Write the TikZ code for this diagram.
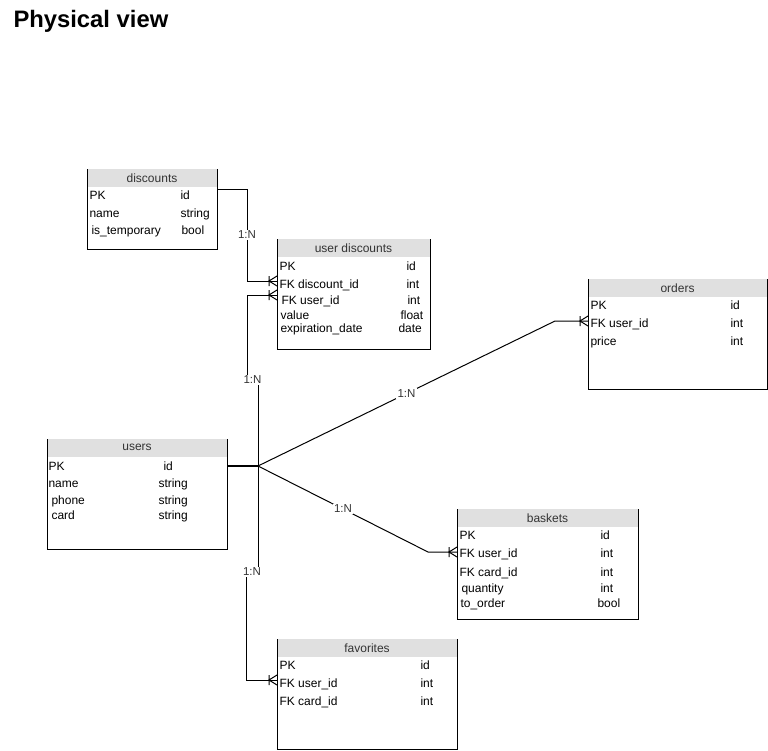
\documentclass[tikz,border=0pt]{standalone}
\usepackage{fontspec}
\setmainfont{Liberation Sans}

\definecolor{hdrgray}{RGB}{224,224,224}
\definecolor{txtgray}{RGB}{51,51,51}

% crow's foot end: bar plus fan
\pgfdeclarearrow{
  name = crow,
  setup code = {
    \pgfarrowssettipend{0pt}
    \pgfarrowssetlineend{0pt}
    \pgfarrowssetbackend{-8pt}
  },
  drawing code = {
    \pgfpathmoveto{\pgfpoint{-8pt}{5pt}}
    \pgfpathlineto{\pgfpoint{-8pt}{-5pt}}
    \pgfpathmoveto{\pgfpoint{0pt}{5pt}}
    \pgfpathlineto{\pgfpoint{-8pt}{0pt}}
    \pgfpathlineto{\pgfpoint{0pt}{-5pt}}
    \pgfusepathqstroke
  }
}

\tikzset{
  tbl/.style={inner sep=0pt, outer sep=0pt},
  hdr/.style={text=txtgray, inner sep=0pt, font=\fontsize{12}{14}\selectfont},
  cell/.style={anchor=base west, inner sep=0pt, font=\fontsize{12}{14}\selectfont},
  lbl/.style={fill=white, text=txtgray, inner sep=1.5pt, font=\fontsize{11.5}{13}\selectfont},
  tomany/.style={-crow}
}

\begin{document}
\begin{tikzpicture}[x=1pt, y=-1pt, line width=1pt]
\useasboundingbox (0,0) rectangle (768,750);

\node[anchor=base west, inner sep=0pt, font=\fontsize{23.8}{28}\selectfont\bfseries] (title) at (13,27) {Physical view};

% tables
\path (152,209) node[tbl, minimum width=130, minimum height=80] (disc) {}
(353.5,294) node[tbl, minimum width=153, minimum height=110] (ud) {}
(677.5,334) node[tbl, minimum width=179, minimum height=110] (ord) {}
(137,494) node[tbl, minimum width=180, minimum height=110] (usr) {}
(547.5,564) node[tbl, minimum width=181, minimum height=110] (bsk) {}
(367,694) node[tbl, minimum width=180, minimum height=110] (fav) {};

\foreach \t/\name in {disc/discounts, ud/user discounts, ord/orders, usr/users, bsk/baskets, fav/favorites} {
  \fill[hdrgray] (\t.north west) rectangle ([yshift=-17.5pt]\t.north east);
  \node[hdr] (\t head) at ([yshift=-8.75pt]\t.north) {\name};
  \draw (\t.north west) |- (\t.south east) -- (\t.north east);
}

% rows
\path (89,199) node[cell] (disc pk) {PK}
(180,199) node[cell] (disc pkt) {id}
(89,217) node[cell] (disc name) {name}
(180,217) node[cell] (disc namet) {string}
(91,234) node[cell] (disc temp) {is\_temporary}
(181,234) node[cell] (disc tempt) {bool};

\path (279,270) node[cell] (ud pk) {PK}
(406,270) node[cell] (ud pkt) {id}
(279,288) node[cell] (ud fk1) {FK discount\_id}
(406,288) node[cell] (ud fk1t) {int}
(281,304) node[cell] (ud fk2) {FK user\_id}
(407,304) node[cell] (ud fk2t) {int}
(280,319) node[cell] (ud val) {value}
(400,319) node[cell] (ud valt) {float}
(280,332) node[cell] (ud exp) {expiration\_date}
(398,332) node[cell] (ud expt) {date};

\path (590,309) node[cell] (ord pk) {PK}
(730,309) node[cell] (ord pkt) {id}
(590,327) node[cell] (ord fk) {FK user\_id}
(730,327) node[cell] (ord fkt) {int}
(590,345) node[cell] (ord price) {price}
(730,345) node[cell] (ord pricet) {int};

\path (48,470) node[cell] (usr pk) {PK}
(163,470) node[cell] (usr pkt) {id}
(48,487) node[cell] (usr name) {name}
(158,487) node[cell] (usr namet) {string}
(51,504) node[cell] (usr phone) {phone}
(158,504) node[cell] (usr phonet) {string}
(51,519) node[cell] (usr card) {card}
(158,519) node[cell] (usr cardt) {string};

\path (459,539) node[cell] (bsk pk) {PK}
(600,539) node[cell] (bsk pkt) {id}
(459,557) node[cell] (bsk fk1) {FK user\_id}
(600,557) node[cell] (bsk fk1t) {int}
(459,576) node[cell] (bsk fk2) {FK card\_id}
(600,576) node[cell] (bsk fk2t) {int}
(461,592) node[cell] (bsk qty) {quantity}
(600,592) node[cell] (bsk qtyt) {int}
(460,607) node[cell] (bsk ord) {to\_order}
(597,607) node[cell] (bsk ordt) {bool};

\path (279,669) node[cell] (fav pk) {PK}
(420,669) node[cell] (fav pkt) {id}
(279,687) node[cell] (fav fk1) {FK user\_id}
(420,687) node[cell] (fav fk1t) {int}
(279,705) node[cell] (fav fk2) {FK card\_id}
(420,705) node[cell] (fav fk2t) {int};

% relations
\coordinate (hub) at (258,466);
\coordinate (udA) at (277,281);
\coordinate (udB) at (277,295);
\coordinate (ordA) at (588,321);
\coordinate (bskA) at (457,552);
\coordinate (favA) at (277,680);

\draw[tomany] ([yshift=-20pt]disc.north east) -- ++(30,0) |- node[lbl, pos=0.25] {1:N} (udA);
\draw[tomany] (hub) -- ++(0,-86) -- node[lbl] {1:N} ++(-11,0) |- (udB);
\draw[tomany] (hub) -- ++(0,106) -- node[lbl] {1:N} ++(-12,0) |- (favA);
\draw[tomany] (hub) -- node[lbl] {1:N} ([xshift=-33pt]ordA) -- (ordA);
\draw[tomany] (hub) -- node[lbl] {1:N} ([xshift=-29pt]bskA) -- (bskA);
\draw[line width=2pt] (usr.east |- hub) -- (hub);
\end{tikzpicture}
\end{document}
